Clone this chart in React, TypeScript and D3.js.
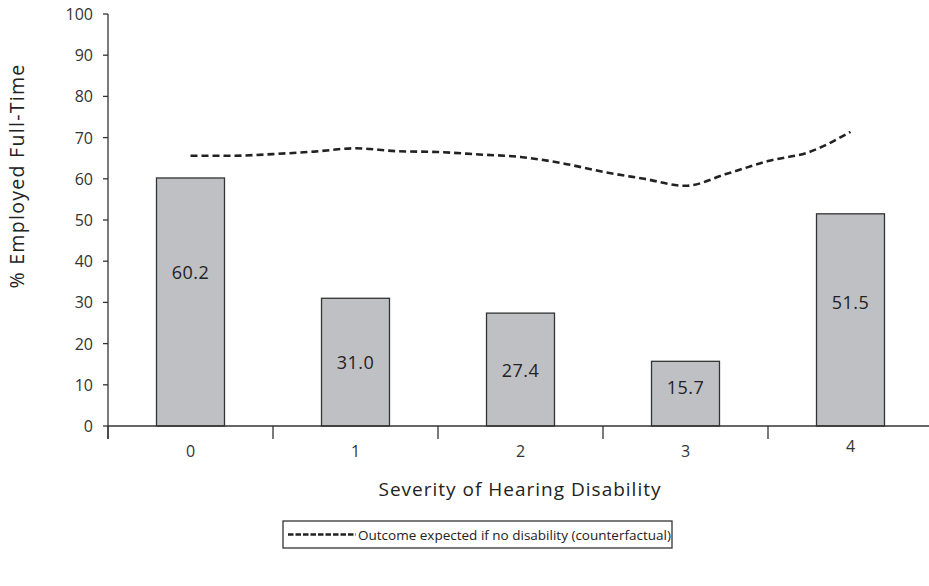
import React from "react";
import * as d3 from "d3";

// Severity categories and the share employed full-time in each
const severities = ["0", "1", "2", "3", "4"];
const employedPct = [60.2, 31.0, 27.4, 15.7, 51.5];

// Counterfactual outcome, sampled along the severity scale
const cfSeverity = [0, 0.25, 0.5, 0.75, 1, 1.25, 1.5, 1.75, 2, 2.25, 2.5, 2.75, 3, 3.25, 3.5, 3.75, 4];
const cfPct = [65.6, 65.6, 66.0, 66.6, 67.4, 66.7, 66.5, 65.9, 65.3, 63.8, 61.7, 60.0, 58.3, 61.2, 64.3, 66.5, 71.4];

const yTicks = [0, 10, 20, 30, 40, 50, 60, 70, 80, 90, 100];

const W = 929;
const H = 586;
const FONT = "'Open Sans', 'Noto Sans', sans-serif";

export default function App() {
  const left = 108;
  const right = 933;
  const top = 14;
  const bottom = 426;

  const y = d3.scaleLinear().domain([0, 100]).range([bottom, top]);
  const x = d3
    .scaleBand<string>()
    .domain(severities)
    .range([left, right])
    .paddingInner(0.588)
    .paddingOuter(0.294);
  const xs = d3.scaleLinear().domain([-0.5, 4.5]).range([left, right]);

  const line = d3
    .line<number>()
    .x((_, i) => xs(cfSeverity[i]))
    .y((d) => y(d))
    .curve(d3.curveMonotoneX);

  // label anchors inside each bar, in data units
  const labelLevels = [37.4, 15.5, 13.6, 9.5, 30.0];

  const boundaries = d3.range(severities.length + 1).map((i) => xs(i - 0.5));

  return (
    <svg
      width={W}
      height={H}
      style={{ position: "absolute", left: 0, top: 0, background: "#fff" }}
      fontFamily={FONT}
    >
      {/* bars */}
      {employedPct.map((v, i) => (
        <rect
          key={i}
          x={x(severities[i])}
          y={y(v)}
          width={x.bandwidth()}
          height={y(0) - y(v)}
          fill="#bfc0c4"
          stroke="#333"
          strokeWidth={1.3}
        />
      ))}
      {employedPct.map((v, i) => (
        <text
          key={"l" + i}
          x={x(severities[i])! + x.bandwidth() / 2}
          y={y(labelLevels[i])}
          textAnchor="middle"
          dominantBaseline="central"
          fontSize={18}
          letterSpacing={0.5}
          fill="#222"
        >
          {v.toFixed(1)}
        </text>
      ))}

      {/* counterfactual line */}
      <path
        d={line(cfPct) || ""}
        fill="none"
        stroke="#222"
        strokeWidth={2.6}
        strokeDasharray="7 4"
      />

      {/* y axis */}
      <line x1={left} x2={left} y1={top} y2={bottom + 13} stroke="#333" strokeWidth={1.3} />
      {yTicks.map((t) => (
        <g key={t}>
          <line x1={left - 5} x2={left} y1={y(t)} y2={y(t)} stroke="#333" strokeWidth={1.3} />
          <text
            x={left - 15}
            y={y(t)}
            textAnchor="end"
            dominantBaseline="central"
            fontSize={16}
            fill="#333"
          >
            {t}
          </text>
        </g>
      ))}

      {/* x axis */}
      <line x1={left} x2={right} y1={bottom} y2={bottom} stroke="#333" strokeWidth={1.3} />
      {boundaries.map((b, i) => (
        <line key={i} x1={b} x2={b} y1={bottom} y2={bottom + 13} stroke="#333" strokeWidth={1.3} />
      ))}
      {severities.map((s, i) => (
        <text
          key={s}
          x={x(s)! + x.bandwidth() / 2}
          y={i === severities.length - 1 ? 446 : 451}
          textAnchor="middle"
          dominantBaseline="central"
          fontSize={16}
          fill="#333"
        >
          {s}
        </text>
      ))}

      {/* axis titles */}
      <text
        x={520}
        y={489}
        textAnchor="middle"
        dominantBaseline="central"
        fontSize={19}
        letterSpacing={1}
        fill="#222"
      >
        Severity of Hearing Disability
      </text>
      <text
        transform={`translate(16,176) rotate(-90)`}
        textAnchor="middle"
        dominantBaseline="central"
        fontSize={19.5}
        letterSpacing={1.3}
        fill="#222"
      >
        % Employed Full-Time
      </text>

      {/* legend */}
      <g transform="translate(283,521)">
        <rect x={0} y={0} width={389} height={27} fill="#fff" stroke="#333" strokeWidth={1.3} />
        <line x1={5} x2={73} y1={13.5} y2={13.5} stroke="#222" strokeWidth={2.4} strokeDasharray="5.5 2" />
        <text x={75} y={13.5} dominantBaseline="central" fontSize={13.5} fill="#222">
          Outcome expected if no disability (counterfactual)
        </text>
      </g>
    </svg>
  );
}
